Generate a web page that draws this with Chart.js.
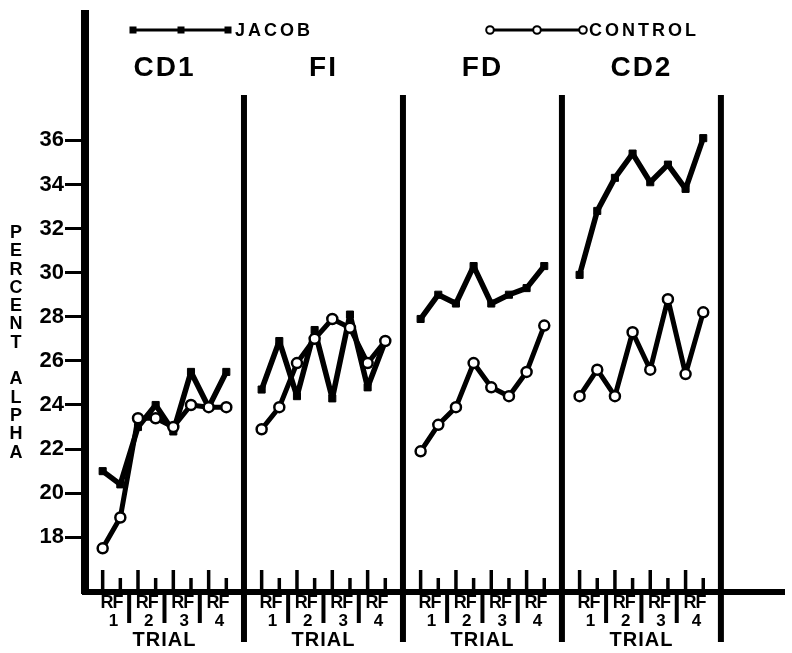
<!DOCTYPE html>
<html>
<head>
<meta charset="utf-8">
<script src="https://cdn.jsdelivr.net/npm/chart.js@4"></script>
<style>
    html, body { margin: 0; padding: 0; background: #fff; }
    #wrap { width: 792px; height: 653px; position: relative; }
</style>
</head>
<body>
<div id="wrap"><canvas id="alphaChart"></canvas></div>
<script>
// conditions (panels) and x labels
const panels = ["CD1", "FI", "FD", "CD2"];
const slotLabels = ["R", "F", "R", "F", "R", "F", "R", "F"];
const trialLabels = ["1", "2", "3", "4"];
const yTicks = [18, 20, 22, 24, 26, 28, 30, 32, 34, 36];

// percent alpha
const jacobCD1 = [21.0, 20.4, 23.0, 24.0, 22.8, 25.5, 23.9, 25.5];
const jacobFI = [24.7, 26.9, 24.4, 27.4, 24.3, 28.1, 24.8, 26.9];
const jacobFD = [27.9, 29.0, 28.6, 30.3, 28.6, 29.0, 29.3, 30.3];
const jacobCD2 = [29.9, 32.8, 34.3, 35.4, 34.1, 34.9, 33.8, 36.1];

const controlCD1 = [17.5, 18.9, 23.4, 23.4, 23.0, 24.0, 23.9, 23.9];
const controlFI = [22.9, 23.9, 25.9, 27.0, 27.9, 27.5, 25.9, 26.9];
const controlFD = [21.9, 23.1, 23.9, 25.9, 24.8, 24.4, 25.5, 27.6];
const controlCD2 = [24.4, 25.6, 24.4, 27.3, 25.6, 28.8, 25.4, 28.2];

const jacobSeries = [jacobCD1, jacobFI, jacobFD, jacobCD2];
const controlSeries = [controlCD1, controlFI, controlFD, controlCD2];

const FONT = "'Liberation Sans', Arial, sans-serif";
const PANEL = slotLabels.length + 1; // slots per panel incl. gap

function toPoints(values, p) {
    return values.map((v, i) => ({ x: p * PANEL + i + 1, y: v }));
}

const controlDatasetConfig = {
    borderColor: "#000",
    borderWidth: 5,
    borderJoinStyle: "round",
    borderCapStyle: "round",
    pointStyle: "circle",
    pointRadius: 5,
    pointBackgroundColor: "#fff",
    pointBorderColor: "#000",
    pointBorderWidth: 2.5,
    tension: 0,
};

const jacobDatasetConfig = {
    borderColor: "#000",
    borderWidth: 5.5,
    borderJoinStyle: "round",
    borderCapStyle: "round",
    pointStyle: "rect",
    pointRadius: 5,
    pointBackgroundColor: "#000",
    pointBorderColor: "#000",
    pointBorderWidth: 1,
    tension: 0,
};

const datasets = [];
controlSeries.forEach((vals, p) => {
    datasets.push({ label: "CONTROL " + panels[p], data: toPoints(vals, p), ...controlDatasetConfig });
});
jacobSeries.forEach((vals, p) => {
    datasets.push({ label: "JACOB " + panels[p], data: toPoints(vals, p), ...jacobDatasetConfig });
});

const decorPlugin = {
    id: "decor",
    afterDraw(chart) {
        const ctx = chart.ctx;
        const xs = chart.scales.x;
        const area = chart.chartArea;
        const axisY = area.bottom;
        ctx.save();
        ctx.fillStyle = "#000";
        ctx.strokeStyle = "#000";
        ctx.lineCap = "butt";

        // panel separators
        ctx.lineWidth = 6;
        for (let k = 1; k <= panels.length; k += 1) {
            const x = xs.getPixelForValue(k * PANEL);
            ctx.beginPath();
            ctx.moveTo(x, 95);
            ctx.lineTo(x, 642);
            ctx.stroke();
        }

        panels.forEach((name, p) => {
            const base = p * PANEL;
            // R / F ticks above axis
            ctx.lineWidth = 3.5;
            slotLabels.forEach((s, i) => {
                const x = xs.getPixelForValue(base + i + 1);
                const len = i % 2 === 0 ? 22 : 14;
                ctx.beginPath();
                ctx.moveTo(x, axisY);
                ctx.lineTo(x, axisY - len);
                ctx.stroke();
            });
            // trial dividers below axis
            ctx.lineWidth = 4;
            for (let t = 1; t < trialLabels.length; t += 1) {
                const x = xs.getPixelForValue(base + t * 2 + 0.5);
                ctx.beginPath();
                ctx.moveTo(x, axisY);
                ctx.lineTo(x, axisY + 31);
                ctx.stroke();
            }
            // RF labels + trial numbers
            ctx.textAlign = "center";
            ctx.textBaseline = "middle";
            trialLabels.forEach((t, j) => {
                const x = xs.getPixelForValue(base + j * 2 + 1.5);
                ctx.font = "bold 18px " + FONT;
                ctx.letterSpacing = "-1px";
                ctx.fillText(slotLabels[j * 2] + slotLabels[j * 2 + 1], x, axisY + 11);
                ctx.letterSpacing = "0px";
                ctx.font = "bold 17px " + FONT;
                ctx.fillText(t, x + 2, axisY + 29);
            });
            const cx = xs.getPixelForValue(base + PANEL / 2);
            ctx.font = "bold 20px " + FONT;
            ctx.letterSpacing = "1px";
            ctx.fillText("TRIAL", cx, axisY + 48);
            // panel title
            ctx.font = "bold 28px " + FONT;
            ctx.letterSpacing = "2px";
            ctx.fillText(name, cx, 68);
            ctx.letterSpacing = "0px";
        });

        // legend
        ctx.lineWidth = 3;
        ctx.beginPath();
        ctx.moveTo(133, 30);
        ctx.lineTo(228, 30);
        ctx.stroke();
        [133, 181, 228].forEach((x) => ctx.fillRect(x - 3.5, 26.5, 7, 7));
        ctx.beginPath();
        ctx.moveTo(490, 30);
        ctx.lineTo(583, 30);
        ctx.stroke();
        ctx.lineWidth = 2;
        [490, 537, 583].forEach((x) => {
            ctx.beginPath();
            ctx.arc(x, 30, 3.8, 0, Math.PI * 2);
            ctx.fillStyle = "#fff";
            ctx.fill();
            ctx.stroke();
        });
        ctx.fillStyle = "#000";
        ctx.font = "bold 18px " + FONT;
        ctx.textAlign = "left";
        ctx.letterSpacing = "3px";
        ctx.fillText("JACOB", 235, 31);
        ctx.fillText("CONTROL", 589, 31);
        ctx.letterSpacing = "0px";

        // y axis title, stacked letters
        ctx.textAlign = "center";
        ctx.font = "bold 18px " + FONT;
        const title = "PERCENT ALPHA";
        for (let i = 0; i < title.length; i += 1) {
            ctx.fillText(title[i], 16, 233 + i * 18.3);
        }
        ctx.restore();
    },
};

new Chart(document.getElementById("alphaChart"), {
    type: "line",
    data: { datasets },
    options: {
        responsive: true,
        maintainAspectRatio: false,
        animation: false,
        layout: { padding: { top: 10, right: 0, left: 0, bottom: 0 } },
        plugins: { legend: { display: false }, tooltip: { enabled: false } },
        scales: {
            x: {
                type: "linear",
                min: 0,
                max: 39.6,
                ticks: { display: false },
                grid: { display: false },
                border: { display: true, width: 6, color: "#000" },
                afterFit: (s) => { s.height = 61; },
            },
            y: {
                min: 15.52,
                max: 41.72,
                afterBuildTicks: (s) => { s.ticks = yTicks.map((v) => ({ value: v })); },
                ticks: { color: "#000", padding: 1, font: { family: FONT, size: 22, weight: "bold" } },
                grid: {
                    display: true,
                    drawOnChartArea: false,
                    drawTicks: true,
                    tickLength: 20,
                    tickWidth: 3,
                    tickColor: "#000",
                    lineWidth: 3,
                    color: "#000",
                },
                border: { display: true, width: 8, color: "#000" },
                afterFit: (s) => { s.width = 85; },
            },
        },
    },
    plugins: [decorPlugin],
});
</script>
</body>
</html>
